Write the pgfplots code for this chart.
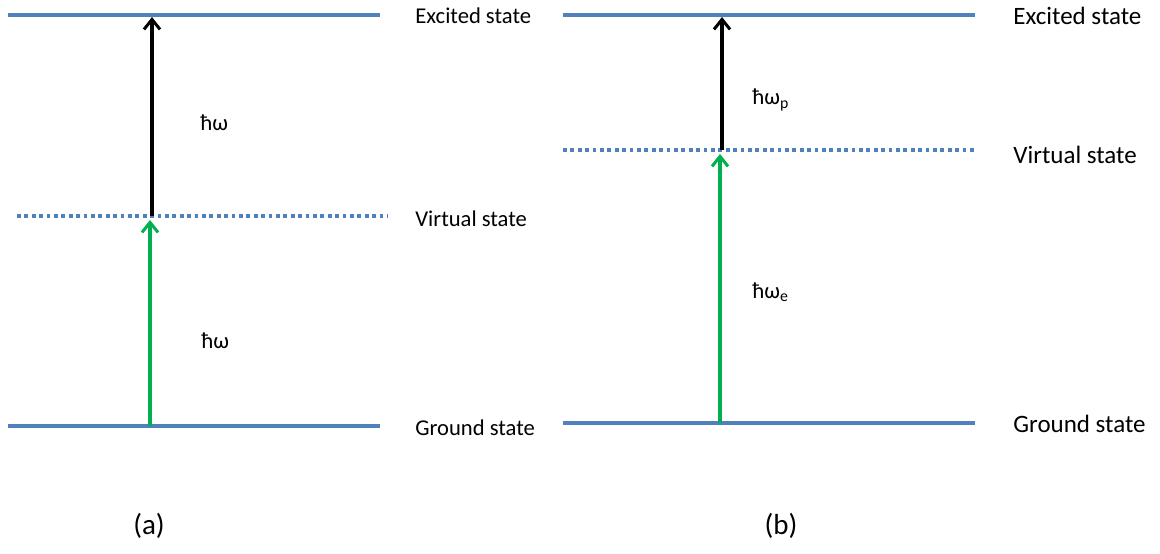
\documentclass[border=0pt]{standalone}
\usepackage{fontspec}
\setmainfont{Carlito}
\usepackage{pgfplots}
\pgfplotsset{compat=1.18}
\usetikzlibrary{arrows.meta}
\definecolor{lvl}{HTML}{4F81BD}
\definecolor{grn}{HTML}{00B050}
\begin{document}
\begin{tikzpicture}
\begin{axis}[
  width=580pt, height=276.5pt, scale only axis,
  xmin=0, xmax=1160, ymin=0, ymax=553, y dir=reverse,
  hide axis, clip=false,
]
\addplot[draw=none] coordinates {(0,0) (1160,553)};
% panel (a)
\addplot[lvl, line width=1.9pt] coordinates {(8,15) (380,15)};
\addplot[lvl, line width=1.9pt] coordinates {(8,426) (380,426)};
\addplot[lvl, line width=1.8pt, dash pattern=on 1.9pt off 1.8pt] coordinates {(17,216) (388,216)};
\addplot[black, line width=1.7pt, -{Straight Barb[length=5pt,width=8pt,line width=1.5pt]}] coordinates {(152,216) (152,17)};
\addplot[grn, line width=1.7pt, -{Straight Barb[length=5pt,width=8pt,line width=1.5pt]}] coordinates {(150,426) (150,220)};
% panel (b)
\addplot[lvl, line width=1.9pt] coordinates {(563,15) (975,15)};
\addplot[lvl, line width=1.9pt] coordinates {(563,423) (975,423)};
\addplot[lvl, line width=1.8pt, dash pattern=on 1.9pt off 1.8pt] coordinates {(563,150) (975,150)};
\addplot[black, line width=1.7pt, -{Straight Barb[length=5pt,width=8pt,line width=1.5pt]}] coordinates {(722,150) (722,17)};
\addplot[grn, line width=1.7pt, -{Straight Barb[length=5pt,width=8pt,line width=1.5pt]}] coordinates {(720,423) (720,154)};
% labels (a)
\node[anchor=west, inner sep=0pt, font=\fontsize{11.3}{13}\selectfont] at (axis cs:415,16) {Excited state};
\node[anchor=west, inner sep=0pt, font=\fontsize{11.3}{13}\selectfont] at (axis cs:415,219) {Virtual state};
\node[anchor=west, inner sep=0pt, font=\fontsize{11.3}{13}\selectfont] at (axis cs:415,428) {Ground state};
\node[anchor=west, inner sep=0pt, font=\fontsize{11.3}{13}\selectfont] at (axis cs:200,123) {ħω};
\node[anchor=west, inner sep=0pt, font=\fontsize{11.3}{13}\selectfont] at (axis cs:201,341) {ħω};
\node[anchor=center, inner sep=0pt, font=\fontsize{14.5}{17}\selectfont] at (axis cs:149,526) {(a)};
% labels (b)
\node[anchor=west, inner sep=0pt, font=\fontsize{12.5}{15}\selectfont] at (axis cs:1013,16) {Excited state};
\node[anchor=west, inner sep=0pt, font=\fontsize{12.5}{15}\selectfont] at (axis cs:1013,155) {Virtual state};
\node[anchor=west, inner sep=0pt, font=\fontsize{12.5}{15}\selectfont] at (axis cs:1013,424) {Ground state};
\node[anchor=west, inner sep=0pt, font=\fontsize{11.3}{13}\selectfont] at (axis cs:752,100) {ħω\textsubscript{p}};
\node[anchor=west, inner sep=0pt, font=\fontsize{11.3}{13}\selectfont] at (axis cs:752,292) {ħω\textsubscript{e}};
\node[anchor=center, inner sep=0pt, font=\fontsize{14.5}{17}\selectfont] at (axis cs:781,526) {(b)};
\end{axis}
\end{tikzpicture}
\end{document}
